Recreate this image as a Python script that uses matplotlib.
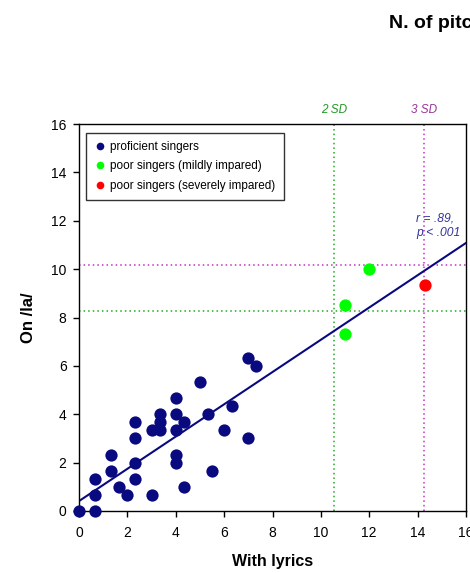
import matplotlib
matplotlib.use("Agg")
import matplotlib.pyplot as plt
from matplotlib.lines import Line2D
import numpy as np

plt.rcParams['font.family'] = ['Liberation Sans', 'DejaVu Sans']

# proficient singers
prof_x = [0, 0.67, 0.67, 0.67, 1.33, 1.33, 1.67, 2.0, 2.33, 2.33, 2.33, 2.33, 3.0, 3.0,
          3.33, 3.33, 3.33, 4.0, 4.0, 4.0, 4.0, 4.0, 4.33, 4.33, 5.0, 5.33, 5.5, 6.0,
          6.33, 7.0, 7.0, 7.33]
prof_y = [0, 0, 0.67, 1.33, 2.33, 1.67, 1.0, 0.67, 3.67, 3.0, 2.0, 1.33, 3.33, 0.67,
          4.0, 3.67, 3.33, 4.67, 4.0, 3.33, 2.33, 2.0, 3.67, 1.0, 5.33, 4.0, 1.67, 3.33,
          4.33, 6.33, 3.0, 6.0]
# poor singers (mildly impaired)
mild_x = [11.0, 11.0, 12.0]
mild_y = [8.5, 7.33, 10.0]
# poor singers (severely impaired)
sev_x = [14.3]
sev_y = [9.33]

# regression line
fit_intercept = 0.41
fit_slope = 0.667
fit_range = [0, 16]

# cut-offs
sd2_x, sd2_y = 10.56, 8.26
sd3_x, sd3_y = 14.28, 10.19

xticks = [0, 2, 4, 6, 8, 10, 12, 14, 16]
yticks = [0, 2, 4, 6, 8, 10, 12, 14, 16]

navy = '#0a0a80'
lime = '#00ff00'
red = '#ff0000'
green_line = '#22aa22'
purple_line = '#c033c0'

fig = plt.figure(figsize=(4.70, 5.73), dpi=100)
ax = fig.add_axes([79/470, 62/573, 387/470, 387/573])

ax.set_xlim(0, 16)
ax.set_ylim(0, 16)

# cut-off lines
ax.axvline(sd2_x, color=green_line, ls=(0, (1, 2)), lw=1.1, zorder=1)
ax.axhline(sd2_y, color=green_line, ls=(0, (1, 2)), lw=1.1, zorder=1)
ax.axvline(sd3_x, color=purple_line, ls=(0, (1, 2)), lw=1.1, zorder=1)
ax.axhline(sd3_y, color=purple_line, ls=(0, (1, 2)), lw=1.1, zorder=1)

# regression line
fx = np.array(fit_range, dtype=float)
ax.plot(fx, fit_intercept + fit_slope * fx, color=navy, lw=1.5, zorder=2)

ms = 78
ax.scatter(prof_x, prof_y, s=ms, color=navy, zorder=3, clip_on=False, linewidths=0)
ax.scatter(mild_x, mild_y, s=ms, color=lime, zorder=3, clip_on=False, linewidths=0)
ax.scatter(sev_x, sev_y, s=ms, color=red, zorder=3, clip_on=False, linewidths=0)

ax.set_xticks(xticks)
ax.set_yticks(yticks)
ax.tick_params(direction='out', length=4, width=1, labelsize=10)
ax.tick_params(axis='x', pad=7)
ax.tick_params(axis='y', pad=5)
for s in ax.spines.values():
    s.set_linewidth(1)

ax.set_xlabel('With lyrics', fontsize=11.5, fontweight='bold', labelpad=10)
ax.set_ylabel('On /la/', fontsize=12, fontweight='bold', labelpad=11)

# SD labels
ax.text(sd2_x, 16.33, '2 SD', color='#229922', fontsize=8.5, style='italic', ha='center', va='bottom')
ax.text(sd3_x, 16.33, '3 SD', color='#993399', fontsize=8.5, style='italic', ha='center', va='bottom')

# correlation text
ax.text(13.93, 11.78, 'r = .89,\np < .001', color='#333399', fontsize=8.7, style='italic',
        ha='left', va='center', linespacing=1.25)

# title (cropped at the right edge)
fig.text(389/470, 1 - 24/573, 'N. of pitch errors', fontsize=14, fontweight='bold',
         ha='left', va='center')

handles = [
    Line2D([], [], marker='o', ls='', color=navy, markersize=5.5, markeredgewidth=0),
    Line2D([], [], marker='o', ls='', color=lime, markersize=5.5, markeredgewidth=0),
    Line2D([], [], marker='o', ls='', color=red, markersize=5.5, markeredgewidth=0),
]
labels = ['proficient singers', 'poor singers (mildly impared)', 'poor singers (severely impared)']
leg = ax.legend(handles, labels, loc='upper left', bbox_to_anchor=(0.0173, 0.9775),
                borderaxespad=0, fontsize=8.5, frameon=True, fancybox=False,
                edgecolor='black', handlelength=1.0, handletextpad=0.4,
                labelspacing=0.64, borderpad=0.68)
leg.get_frame().set_linewidth(1)

fig.savefig('out.png', dpi=100)
